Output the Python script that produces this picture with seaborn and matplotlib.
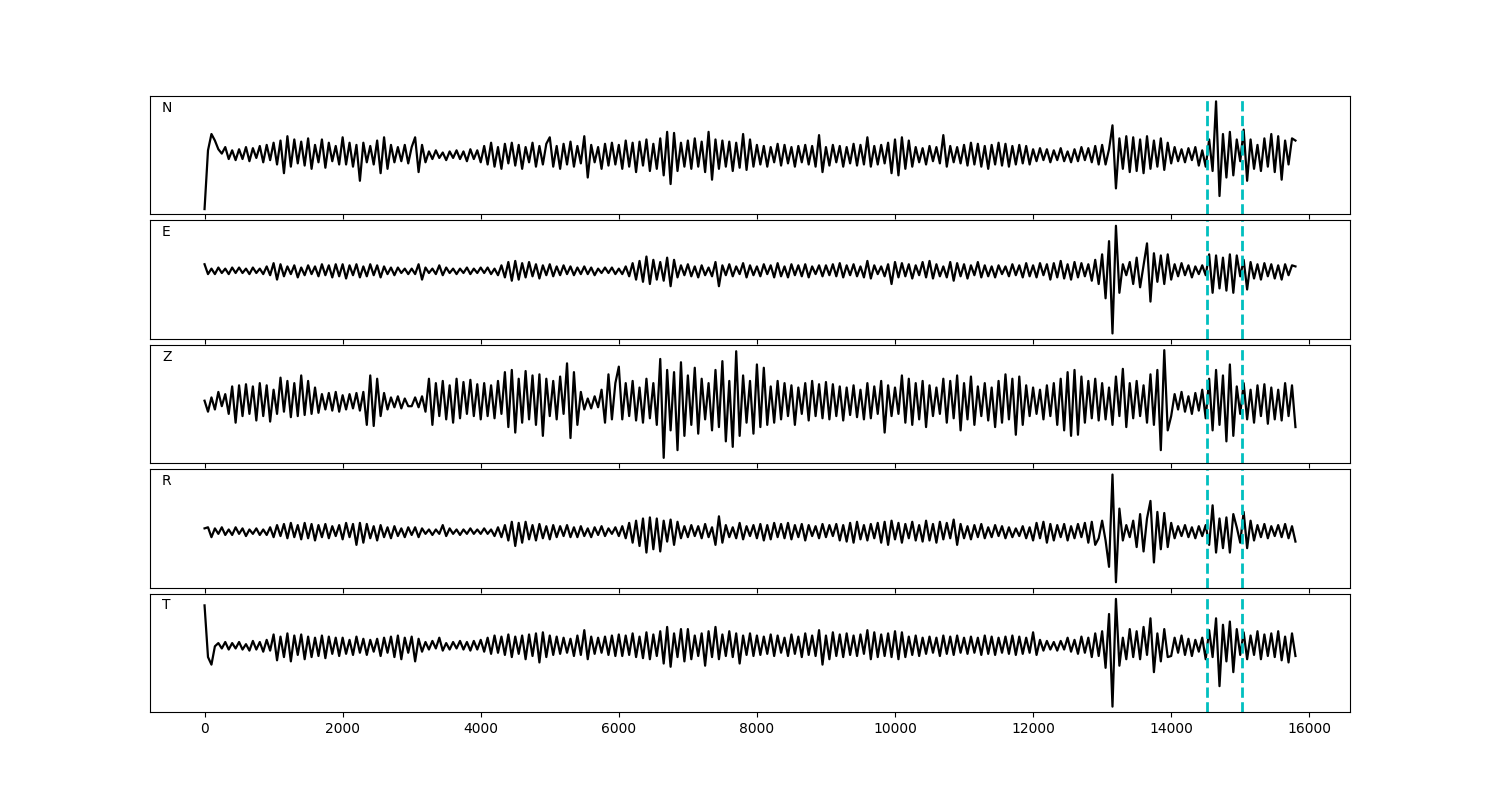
import numpy as np
import matplotlib
matplotlib.use('Agg')
import matplotlib.pyplot as plt
import seaborn as sns

dt = 50
picks = [14515, 15020]
components = ['N', 'E', 'Z', 'R', 'T']

n_trace = [
    -49, 5, 20, 14, 6, 2, 8, -3, 5, -4, 6, -3, 8, -5, 7, -2, 9, -6, 10, -4,
    12, -8, 14, -16, 18, -10, 15, -7, 13, -9, 16, -12, 10, -6, 15, -11, 12, -5, 9, -8,
    17, -8, 12, -10, 10, -23, 12, -6, 9, -8, 14, -16, 17, -12, 10, -6, 8, -5, 10, -7,
    8, 17, -15, 10, -6, 4, -3, 5, -2, 3, -4, 4, -2, 5, -3, 4, -5, 6, -3, 5,
    -6, 9, -8, 12, -10, 8, -12, 11, -7, 12, -9, 10, -12, 8, -6, 12, -10, 9, -8, 11,
    17, -10, 9, -12, 11, -8, 13, -10, 9, -7, 18, -20, 10, -6, 8, -12, 11, -9, 12, -8,
    10, -12, 14, -10, 12, -15, 13, -9, 15, -14, 11, -12, 16, -18, 22, -26, 21, -14, 12, -10,
    14, -12, 16, -10, 13, -15, 22, -22, 15, -12, 14, -10, 13, -14, 12, -11, 20, -13, 15, -10,
    10, -8, 9, -10, 8, -6, 11, -9, 10, -7, 8, -10, 9, -6, 10, -8, 9, -10, 19, -15,
    8, -9, 10, -6, 9, -10, 8, -7, 11, -9, 10, -8, 17, -10, 9, -8, 10, -7, 12, -16,
    15, -18, 17, -12, 14, -10, 8, -6, 7, -8, 9, -5, 8, -7, 19, -10, 9, -6, 8, -7,
    10, -9, 12, -8, 11, -10, 9, -12, 10, -8, 12, -9, 11, -10, 9, -8, 10, -7, 9, -8,
    6, -5, 7, -4, 6, -6, 5, -4, 7, -5, 4, -6, 6, -5, 8, -4, 7, -6, 9, -8,
    10, -8, 6, 28, -30, 16, -12, 18, -15, 17, -14, 15, -16, 18, -12, 14, -10, 16, -13, 12,
    -7, 8, -5, 6, -6, 7, -4, 8, -9, 5, -10, 15, -14, 50, -37, 20, -20, 22, -18, 15,
    -5, 24, -23, 15, -12, 10, -14, 16, -10, 20, -15, 18, -22, 14, -8, 16, 14,
]

e_trace = [
    6, -3, 2, -3, 3, -2, 2, -3, 3, -2, 3, -2, 2, -3, 3, -2, 2, -3, 4, -4,
    7, -8, 6, -5, 4, -3, 5, -6, 3, -4, 5, -3, 4, -5, 6, -4, 5, -6, 6, -5,
    6, -7, 5, -4, 6, -6, 4, -5, 6, -4, 5, -6, 4, -3, 3, -4, 3, -2, 2, -3,
    2, -3, 6, -8, 3, -2, 2, -3, 5, -4, 3, -2, 2, -3, 2, -2, 3, -3, 2, -2,
    3, -2, 3, -3, 2, -4, 5, -6, 8, -9, 9, -8, 7, -6, 8, -5, 6, -7, 5, -4,
    6, -5, 4, -4, 5, -3, 4, -4, 3, -3, 4, -3, 3, -4, 2, -2, 3, -2, 3, -3,
    2, -3, 4, -5, 7, -8, 9, -10, 13, -12, 10, -8, 8, -9, 12, -14, 10, -6, 5, -4,
    6, -5, 4, -6, 5, -4, 3, -5, 8, -14, 5, -4, 6, -5, 4, -3, 7, -6, 5, -4,
    4, -5, 6, -3, 5, -6, 7, -5, 4, -6, 6, -4, 5, -5, 6, -6, 4, -3, 5, -5,
    5, -4, 6, -5, 7, -6, 5, -4, 6, -5, 4, -6, 9, -7, 5, -3, 4, -5, 6, -12,
    8, -6, 7, -5, 6, -7, 5, -4, 8, -6, 9, -7, 6, -5, 4, -6, 8, -9, 7, -5,
    6, -7, 5, -4, 8, -6, 5, -5, 4, -6, 5, -3, 4, -5, 6, -4, 5, -6, 7, -5,
    5, -6, 7, -4, 6, -8, 7, -6, 9, -7, 6, -8, 8, -6, 7, -5, 6, -9, 10, -12,
    15, -25, 27, -57, 41, -20, 6, -4, 8, -12, 12, -15, 5, 25, -28, 16, -10, 14, -12, 15,
    -8, 6, -5, 7, -4, 5, -6, 4, -3, 5, -4, 15, -20, 14, -16, 12, -18, 15, -20, 14,
    -5, 10, -17, 8, -7, 6, -8, 7, -5, 6, -7, 5, -8, 6, -4, 5, 4,
]

z_trace = [
    2, -8, 5, -6, 10, -3, 8, -10, 15, -18, 16, -12, 17, -10, 15, -16, 18, -12, 16, -17,
    12, -10, 23, -8, 20, -13, 18, -12, 25, -11, 20, -10, 14, -9, 8, -6, 9, -7, 10, -8,
    7, -6, 8, -5, 9, -7, 10, -20, 25, -21, 22, -12, 9, -6, 5, -4, 6, -5, 4, -3,
    -3, 5, -4, 6, -8, 22, -20, 18, -12, 20, -15, 16, -18, 22, -14, 19, -10, 21, -12, 17,
    -15, 18, -12, 16, -14, 20, -10, 28, -22, 30, -27, 22, -18, 29, -15, 25, -20, 26, -30, 22,
    -12, 20, -15, 24, -10, 36, -32, 28, -20, 10, -6, 4, -5, 6, -4, 12, -18, 26, -15, 18,
    33, -15, 18, -12, 20, -16, 14, -18, 22, -14, 18, -20, 40, -50, 30, -25, 28, -43, 37, -30,
    25, -20, 32, -28, 22, -15, 18, -25, 30, -22, 38, -35, 20, -40, 47, -30, 25, -18, 20, -28,
    35, -22, 32, -20, 15, -18, 20, -15, 18, -12, 16, -20, 14, -10, 18, -16, 20, -12, 17, -14,
    19, -15, 17, -12, 15, -16, 14, -11, 16, -13, 12, -15, 18, -14, 15, -10, 20, -27, 16, -12,
    14, -10, 25, -18, 22, -20, 18, -15, 20, -22, 16, -12, 14, -10, 22, -18, 20, -14, 25, -25,
    18, -15, 24, -20, 15, -12, 18, -16, 14, -22, 20, -18, 26, -15, 22, -29, 24, -20, 16, -12,
    14, -10, 12, -15, 16, -12, 18, -20, 22, -25, 28, -30, 30, -29, 24, -18, 20, -14, 22, -16,
    18, -15, 14, -20, 24, -12, 31, -22, 18, -14, 20, -12, 16, -18, 26, -20, 30, -43, 48, -25,
    -12, 8, -6, 10, -8, 6, -10, 9, -7, 12, -14, 22, -25, 30, -20, 25, -35, 35, -30, 15,
    -10, 18, -15, 12, -18, 16, -12, 17, -19, 14, -15, 12, -16, 18, -12, 16, -22,
]

r_trace = [
    3, 4, -5, 3, -2, 4, -3, 2, -3, 4, -2, 3, -4, 2, -2, 3, -3, 2, -3, 4,
    -5, 6, -4, 7, -6, 8, -5, 6, -7, 8, -6, 7, -8, 6, -5, 7, -6, 5, -4, 6,
    -7, 8, -5, 7, -12, 8, -10, 7, -6, 5, -8, 6, -5, 4, -6, 5, -4, 3, -5, 4,
    -3, 4, -5, 3, -2, 2, -3, 2, -2, 6, -4, 3, -2, 2, -3, 2, -2, 3, -2, 2,
    -2, 3, -2, 2, -4, 4, -5, 6, -8, 9, -13, 8, -10, 9, -7, 6, -8, 7, -6, 5,
    -7, 6, -5, 5, -4, 6, -5, 4, -5, 5, -4, 3, -5, 4, -3, 5, -4, 3, -2, 4,
    -4, 5, -6, 8, -10, 10, -13, 12, -19, 13, -16, 12, -18, 10, -9, 11, -12, 9, -6, 5,
    -5, 6, -4, 5, -6, 7, -5, 4, -12, 14, -10, 6, -5, 4, -6, 8, -7, 5, -4, 6,
    -6, 7, -8, 6, -7, 8, -5, 7, -6, 8, -7, 6, -5, 7, -8, 6, -4, 5, -6, 7,
    -5, 6, -4, 7, -8, 6, -9, 8, -10, 9, -7, 6, -8, 7, -6, 8, -10, 9, -12, 10,
    -7, 8, -10, 7, -6, 9, -8, 6, -9, 10, -8, 7, -10, 9, -7, 8, -6, 11, -12, 7,
    -6, 5, -7, 6, -5, 7, -6, 4, -5, 6, -4, 5, -6, 4, -5, 3, -4, 5, -6, 4,
    -8, 8, -6, 9, -10, 7, -8, 6, -5, 7, -8, 5, -6, 7, -5, 8, -10, 9, -12, -6,
    10, -8, -32, 52, -46, 21, -8, 6, -5, 10, -14, 16, -18, 12, 28, -28, 18, -16, 17, -14,
    8, -6, 5, -4, 6, -5, 4, -6, 5, -4, 6, -12, 24, -19, 12, -15, 13, -19, 16, 4,
    -10, 18, -15, 10, -8, 6, -5, 7, -6, 5, -4, 6, -5, 7, -6, 5, -9,
]

t_trace = [
    38, -10, -17, 0, 3, -2, 4, -3, 3, -2, 4, -3, 2, -4, 5, -3, 4, -5, 6, -4,
    11, -13, 9, -10, 12, -14, 10, -8, 11, -12, 9, -10, 8, -9, 10, -11, 9, -7, 8, -9,
    8, -7, 6, -8, 9, -6, 7, -8, 6, -5, 7, -9, 8, -6, 9, -10, 10, -12, 8, -6,
    9, -14, 7, -5, 4, -3, 5, -2, 8, -4, 3, -3, 4, -2, 5, -3, 4, -4, 5, -3,
    6, -5, 8, -7, 10, -6, 9, -8, 11, -10, 9, -7, 10, -12, 11, -9, 12, -15, 13, -10,
    10, -8, 9, -7, 8, -6, 7, -9, 10, -8, 15, -12, 9, -7, 8, -6, 9, -8, 10, -9,
    11, -9, 10, -8, 12, -10, 9, -11, 13, -12, 11, -9, 14, -16, 18, -19, 12, -10, 16, -14,
    16, -12, 10, -9, 12, -18, 14, -10, 18, -12, 11, -9, 14, -10, 12, -16, 10, -8, 12, -9,
    10, -8, 9, -7, 11, -9, 10, -6, 8, -9, 11, -7, 9, -10, 12, -8, 10, -9, 15, -17,
    10, -12, 13, -9, 11, -10, 12, -8, 10, -9, 11, -7, 15, -12, 13, -10, 11, -9, 12, -10,
    14, -12, 13, -10, 9, -8, 10, -9, 8, -7, 9, -6, 8, -9, 10, -7, 9, -8, 10, -6,
    8, -7, 9, -6, 8, -8, 10, -7, 9, -8, 8, -6, 9, -7, 10, -8, 9, -7, 8, -6,
    13, -8, 6, -4, 5, -3, 4, -4, 5, -3, 8, -5, 6, -7, 9, -6, 8, -10, 12, -9,
    14, -20, 30, -56, 44, -18, 8, -12, 16, -10, 14, -12, 18, -8, 26, -24, 12, -14, 16, -10,
    -9, 8, -6, 10, -8, 7, -9, 6, -5, 8, -12, 15, -10, 26, -37, 20, -14, 23, -24, 16,
    -8, 13, -12, 10, -8, 14, -12, 11, -9, 12, -10, 14, -13, 9, -15, 12, -9,
]

traces = [n_trace, e_trace, z_trace, r_trace, t_trace]

fig, axes = plt.subplots(5, 1, sharex=True, figsize=(15, 8))
fig.subplots_adjust(left=0.1, right=0.9, top=0.88, bottom=0.11, hspace=0.05)

for ax, comp, tr in zip(axes, components, traces):
    t = np.arange(len(tr)) * dt
    sns.lineplot(x=t, y=tr, ax=ax, color='k', linewidth=1.6)
    for p in picks:
        ax.axvline(p, color='c', linestyle='--', linewidth=2)
    ax.text(0.01, 0.9, comp, transform=ax.transAxes, va='center')
    ax.set_yticks([])

fig.savefig('out.png', dpi=100)
